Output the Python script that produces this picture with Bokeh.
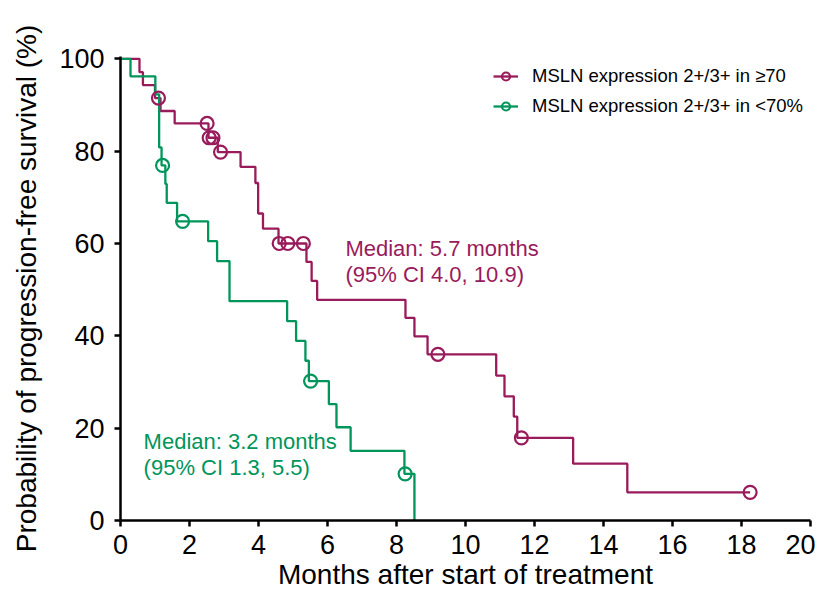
from bokeh.plotting import figure
from bokeh.models import Range1d, FixedTicker, Legend, LegendItem, Label
from bokeh.embed import file_html
from bokeh.resources import INLINE

# ---- data ----
hi_time = [0, 0.55, 0.65, 1.00, 1.16, 1.57, 2.55, 2.82, 3.48, 3.91, 3.99, 4.13, 4.58,
           5.39, 5.54, 5.70, 8.26, 8.52, 8.90, 10.89, 11.13, 11.40, 11.50, 13.12, 14.69, 18.25]
hi_surv = [100, 97.1, 94.3, 91.5, 88.7, 86.0, 82.9, 79.8, 76.6, 73.1, 66.5, 63.2, 60.0,
           56.0, 51.9, 47.8, 43.9, 39.9, 36.0, 31.4, 26.9, 22.5, 17.9, 12.3, 6.1, 6.1]
hi_cens_time = [1.10, 2.51, 2.57, 2.68, 2.90, 4.60, 4.85, 5.30, 9.20, 11.62, 18.25]
hi_cens_surv = [91.5, 86.0, 82.9, 82.9, 79.8, 60.0, 60.0, 60.0, 36.0, 17.9, 6.1]

lo_time = [0, 0.29, 1.01, 1.12, 1.19, 1.30, 1.34, 1.64, 2.54, 2.80, 3.16, 4.83, 5.09,
           5.36, 5.46, 6.04, 6.26, 6.67, 8.23, 8.52]
lo_surv = [100, 96.2, 92.3, 80.8, 76.9, 72.9, 68.8, 64.8, 60.5, 56.2, 47.5, 43.2, 38.9,
           34.6, 30.2, 25.2, 20.2, 15.1, 10.1, 0]
lo_cens_time = [1.22, 1.80, 5.51, 8.25]
lo_cens_surv = [76.9, 64.8, 30.2, 10.1]

series_labels = ["MSLN expression 2+/3+ in \u226570", "MSLN expression 2+/3+ in <70%"]
hi_median_text = ["Median: 5.7 months", "(95% CI 4.0, 10.9)"]
lo_median_text = ["Median: 3.2 months", "(95% CI 1.3, 5.5)"]
x_title = "Months after start of treatment"
y_title = "Probability of progression-free survival (%)"

x_ticks = [0, 2, 4, 6, 8, 10, 12, 14, 16, 18, 20]
y_ticks = [0, 20, 40, 60, 80, 100]

# ---- styles ----
MAROON = "#9A1B5B"
GREEN = "#00955A"
FONT = "Liberation Sans"

p = figure(width=815, height=592, x_range=Range1d(0, 20), y_range=Range1d(0, 100.5),
           output_backend="svg", toolbar_location=None,
           min_border_left=120, min_border_right=5, min_border_top=56, min_border_bottom=72)
p.outline_line_color = None
p.xgrid.grid_line_color = None
p.ygrid.grid_line_color = None
p.background_fill_color = "white"
p.border_fill_color = "white"

for ax in (p.xaxis, p.yaxis):
    ax.axis_line_width = 2.5
    ax.axis_line_color = "black"
    ax.major_tick_line_width = 2.5
    ax.major_tick_line_color = "black"
    ax.major_tick_in = 0
    ax.major_tick_out = 6
    ax.minor_tick_line_color = None
    ax.major_label_text_font = FONT
    ax.major_label_text_font_size = "27px"
    ax.major_label_text_color = "black"
    ax.axis_label_text_font = FONT
    ax.axis_label_text_font_size = "28px"
    ax.axis_label_text_font_style = "normal"
    ax.axis_label_text_color = "black"

p.xaxis.ticker = FixedTicker(ticks=x_ticks)
p.yaxis.ticker = FixedTicker(ticks=y_ticks)
p.xaxis.axis_label = x_title
p.yaxis.axis_label = y_title
p.xaxis.major_label_standoff = 8
p.xaxis.axis_label_standoff = 2
p.yaxis.major_label_standoff = 10
p.yaxis.axis_label_standoff = 14

hi_line = p.step(hi_time, hi_surv, mode="after", line_color=MAROON, line_width=2.3)
lo_line = p.step(lo_time, lo_surv, mode="after", line_color=GREEN, line_width=2.3)
hi_pts = p.scatter(hi_cens_time, hi_cens_surv, marker="circle", size=13,
                   fill_color=None, line_color=MAROON, line_width=2.2)
lo_pts = p.scatter(lo_cens_time, lo_cens_surv, marker="circle", size=13,
                   fill_color=None, line_color=GREEN, line_width=2.2)

legend = Legend(items=[LegendItem(label=series_labels[0], renderers=[hi_line, hi_pts]),
                       LegendItem(label=series_labels[1], renderers=[lo_line, lo_pts])],
                location=(373, 403), orientation="vertical",
                padding=0, margin=0, spacing=8,
                glyph_width=25, glyph_height=20, label_height=20,
                label_standoff=14, border_line_color=None, background_fill_alpha=0,
                label_text_font=FONT, label_text_font_size="18.5px",
                label_text_color="black", label_text_baseline="middle")
p.add_layout(legend)

for i, txt in enumerate(hi_median_text):
    p.add_layout(Label(x=6.52, y=[58.9, 53.3][i], text=txt, text_baseline="middle",
                       text_font=FONT, text_font_size="22px", text_color=MAROON))
for i, txt in enumerate(lo_median_text):
    p.add_layout(Label(x=0.67, y=[17.1, 11.5][i], text=txt, text_baseline="middle",
                       text_font=FONT, text_font_size="22px", text_color=GREEN))

open("out.html", "w").write(file_html(p, INLINE))
